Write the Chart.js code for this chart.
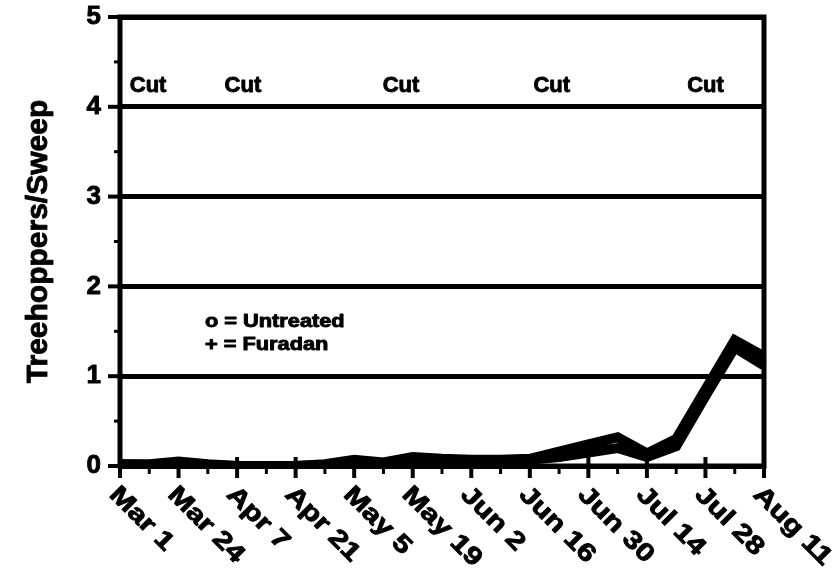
<!DOCTYPE html>
<html>
<head>
<meta charset="utf-8">
<script src="https://cdn.jsdelivr.net/npm/chart.js@4.4.1/dist/chart.umd.min.js"></script>
<style>
  html, body { margin: 0; padding: 0; background: #fff; }
</style>
</head>
<body>
<canvas id="chart" width="836" height="571"></canvas>
<script>
// sampling dates (labelled every other week, half-way points are unlabelled)
const dateLabels = ["Mar 1", "Mar 24", "Apr 7", "Apr 21", "May 5", "May 19",
  "Jun 2", "Jun 16", "Jun 30", "Jul 14", "Jul 28", "Aug 11"];
const untreated = [0.02, 0.02, 0.05, 0.02, 0, 0, 0, 0.02, 0.07, 0.04, 0.1, 0.08,
  0.07, 0.07, 0.08, 0.16, 0.24, 0.32, 0.14, 0.3, 0.85, 1.4, 1.22];
const furadan = [0.02, 0.01, 0.03, 0.01, 0, 0, 0, 0.01, 0.05, 0.03, 0.08, 0.07,
  0.06, 0.06, 0.07, 0.1, 0.15, 0.2, 0.1, 0.22, 0.78, 1.32, 1.12];
const yTicks = [0, 1, 2, 3, 4, 5];
const cutPositions = [0.96, 4.2, 9.6, 14.75, 20.0];
const cutLevel = 4.23;
const legendLines = ["o = Untreated", "+ = Furadan"];
const legendPos = [2.9, 1.6, 1.35]; // x position, y of each line

const categories = [];
for (let i = 0; i < dateLabels.length * 2 - 1; i++) {
  categories.push(i % 2 === 0 ? dateLabels[i / 2] : "");
}

const FONT = '"Liberation Sans", Arial, sans-serif';

// bold text, a bit heavier than the font gives, like the scanned figure
function drawText(ctx, text, x, y, size, angle, stretch, align, baseline) {
  ctx.save();
  ctx.translate(x, y);
  ctx.rotate(angle);
  ctx.scale(stretch, 1);
  ctx.font = "bold " + size + "px " + FONT;
  ctx.textAlign = align;
  ctx.textBaseline = baseline;
  ctx.fillStyle = "#000";
  ctx.strokeStyle = "#000";
  ctx.lineWidth = 0.9;
  ctx.lineJoin = "round";
  ctx.fillText(text, 0, 0);
  ctx.strokeText(text, 0, 0);
  ctx.restore();
}

const framePlugin = {
  id: "frame",
  beforeDatasetsDraw(chart) {
    const { ctx, chartArea: a, scales: { x, y } } = chart;
    ctx.save();
    ctx.strokeStyle = "#000";
    // x ticks, long on dates, short half-way
    categories.forEach((c, i) => {
      const px = x.getPixelForValue(i);
      ctx.beginPath();
      if (i % 2 === 0) {
        ctx.lineWidth = 4;
        ctx.moveTo(px, a.bottom - 9);
        ctx.lineTo(px, a.bottom + 12);
      } else {
        ctx.lineWidth = 3;
        ctx.moveTo(px, a.bottom);
        ctx.lineTo(px, a.bottom + 8);
      }
      ctx.stroke();
    });
    // y ticks
    yTicks.forEach(v => {
      const py = y.getPixelForValue(v);
      ctx.lineWidth = 4;
      ctx.beginPath();
      ctx.moveTo(a.left - 12, py);
      ctx.lineTo(a.left + 8, py);
      ctx.stroke();
      if (v < 5) {
        const pm = y.getPixelForValue(v + 0.5);
        ctx.lineWidth = 3;
        ctx.beginPath();
        ctx.moveTo(a.left - 6, pm);
        ctx.lineTo(a.left, pm);
        ctx.stroke();
      }
    });
    ctx.lineWidth = 5;
    ctx.strokeRect(a.left, a.top, a.right - a.left, a.bottom - a.top);
    ctx.restore();
  },
  afterDraw(chart) {
    const { ctx, chartArea: a, scales: { x, y } } = chart;
    // date labels, turned down to the right
    categories.forEach((c, i) => {
      if (!c) return;
      const px = x.getPixelForValue(i);
      drawText(ctx, c, px + 2, a.bottom + 16, 25, Math.PI / 4, 1.22, "left", "top");
    });
    // y tick labels
    yTicks.forEach(v => {
      drawText(ctx, String(v), a.left - 19, y.getPixelForValue(v), 26, 0, 1, "right", "middle");
    });
    // axis title
    drawText(ctx, "Treehoppers/Sweep", 47, (a.top + a.bottom) / 2, 30, -Math.PI / 2, 1, "center", "alphabetic");
    // cutting dates
    cutPositions.forEach(p => {
      drawText(ctx, "Cut", x.getPixelForValue(p), y.getPixelForValue(cutLevel), 22, 0, 1, "center", "middle");
    });
    // key
    legendLines.forEach((t, k) => {
      drawText(ctx, t, x.getPixelForValue(legendPos[0]), y.getPixelForValue(legendPos[k + 1]), 18, 0, 1.21, "left", "middle");
    });
  }
};

new Chart(document.getElementById("chart"), {
  type: "line",
  data: {
    labels: categories,
    datasets: [
      { label: "Untreated", data: untreated },
      { label: "Furadan", data: furadan }
    ].map(d => Object.assign(d, {
      borderColor: "#000",
      backgroundColor: "#000",
      borderWidth: 10,
      pointRadius: 0,
      tension: 0,
      borderJoinStyle: "miter",
      borderCapStyle: "butt",
      fill: false
    }))
  },
  options: {
    responsive: false,
    animation: false,
    devicePixelRatio: 1,
    layout: { padding: { top: 17, right: 72, left: 0, bottom: 0 } },
    plugins: {
      legend: { display: false },
      tooltip: { enabled: false }
    },
    scales: {
      x: {
        offset: false,
        ticks: { display: false },
        grid: { display: false },
        border: { display: false },
        afterFit: s => { s.height = 105; s.paddingLeft = 0; s.paddingRight = 0; }
      },
      y: {
        min: 0,
        max: 5,
        ticks: { stepSize: 1, display: false },
        grid: { color: "#000", lineWidth: 5, drawTicks: false },
        border: { display: false },
        afterFit: s => { s.width = 120; s.paddingTop = 0; s.paddingBottom = 0; }
      }
    }
  },
  plugins: [framePlugin]
});
</script>
</body>
</html>
